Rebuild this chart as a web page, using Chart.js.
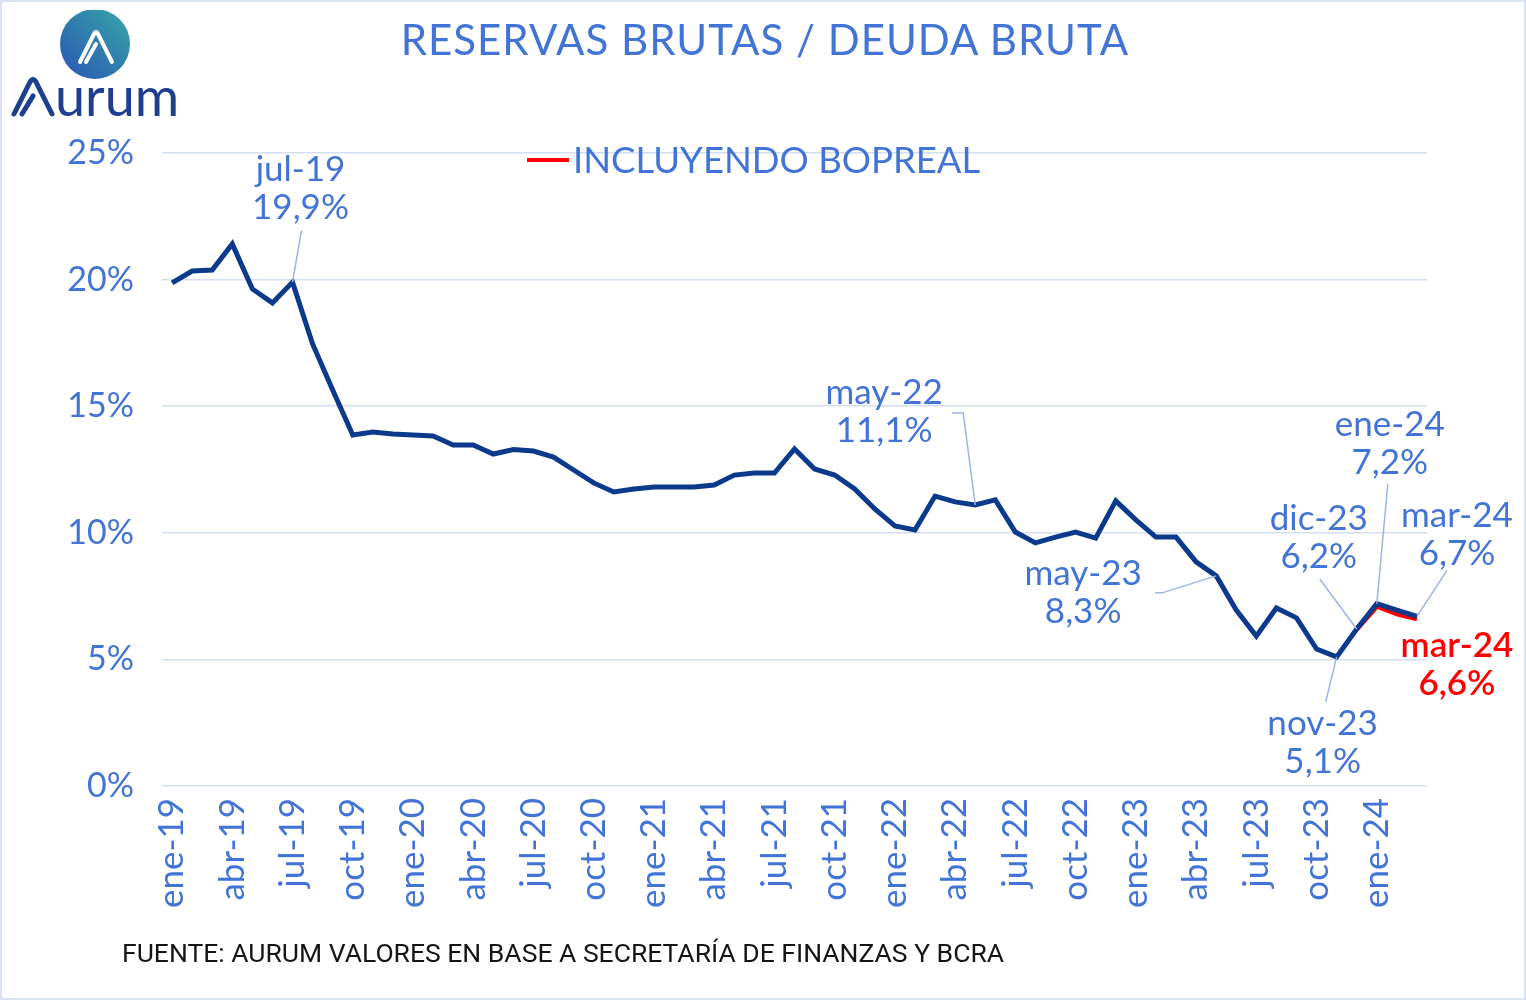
<!DOCTYPE html>
<html>
<head>
<meta charset="utf-8">
<script src="https://cdn.jsdelivr.net/npm/chart.js@4.4.1/dist/chart.umd.min.js"></script>
<style>
  html, body { margin:0; padding:0; background:#fff; }
  #wrap { position:relative; width:1526px; height:1000px; box-sizing:border-box; border:2px solid #d9e3f4; overflow:hidden; }
  #chart { position:absolute; left:0; top:0; }
  #title { position:absolute; left:0; width:1526px; top:12px; text-align:center; font:400 42px Lato, sans-serif; color:#4273d6; letter-spacing:1px; }
  #logo { position:absolute; left:8px; top:8px; }
  #foot { position:absolute; left:120px; top:935px; font:400 26.5px Roboto, sans-serif; color:#151515; }
</style>
</head>
<body>
<div id="wrap">
  <canvas id="chart" width="1526" height="1000"></canvas>
  <div id="title">RESERVAS BRUTAS / DEUDA BRUTA</div>
  <svg id="logo" width="180" height="115" viewBox="0 0 180 115">
    <defs>
      <linearGradient id="lg" x1="1" y1="0" x2="0" y2="1">
        <stop offset="0" stop-color="#36a7a6"/>
        <stop offset="1" stop-color="#2a55b5"/>
      </linearGradient>
    </defs>
    <circle cx="85" cy="34" r="35" fill="url(#lg)"/>
    <path d="M70 52 L84 24 Q86 20 88 24 L102 52" fill="none" stroke="#fff" stroke-width="4" stroke-linecap="round" stroke-linejoin="round"/>
    <path d="M76 52 L86 34" fill="none" stroke="#fff" stroke-width="4" stroke-linecap="round"/>
    <path d="M4 104 L20 72 Q23 67 26 72 L42 104" fill="none" stroke="#1e3f8f" stroke-width="5" stroke-linecap="round" stroke-linejoin="round"/>
    <path d="M12 104 L23 86" fill="none" stroke="#1e3f8f" stroke-width="5" stroke-linecap="round"/>
    <text x="45" y="106" font-family="Lato, sans-serif" font-size="54" fill="#1e3f8f">urum</text>
  </svg>
  <div id="foot">FUENTE: AURUM VALORES EN BASE A SECRETARÍA DE FINANZAS Y BCRA</div>
</div>
<script>
const labels = [
  'ene-19','feb-19','mar-19','abr-19','may-19','jun-19','jul-19','ago-19','sep-19','oct-19','nov-19','dic-19',
  'ene-20','feb-20','mar-20','abr-20','may-20','jun-20','jul-20','ago-20','sep-20','oct-20','nov-20','dic-20',
  'ene-21','feb-21','mar-21','abr-21','may-21','jun-21','jul-21','ago-21','sep-21','oct-21','nov-21','dic-21',
  'ene-22','feb-22','mar-22','abr-22','may-22','jun-22','jul-22','ago-22','sep-22','oct-22','nov-22','dic-22',
  'ene-23','feb-23','mar-23','abr-23','may-23','jun-23','jul-23','ago-23','sep-23','oct-23','nov-23','dic-23',
  'ene-24','feb-24','mar-24'
];
const ratio = [
  19.87, 20.34, 20.38, 21.41, 19.63, 19.08, 19.9, 17.46, 15.64, 13.86, 13.98, 13.9,
  13.86, 13.82, 13.47, 13.47, 13.11, 13.29, 13.23, 12.99, 12.48, 11.97, 11.61, 11.73,
  11.81, 11.81, 11.81, 11.89, 12.28, 12.36, 12.36, 13.31, 12.52, 12.28, 11.73, 10.94,
  10.27, 10.11, 11.45, 11.22, 11.1, 11.3, 10.03, 9.6, 9.83, 10.03, 9.79, 11.26,
  10.51, 9.83, 9.83, 8.85, 8.3, 6.95, 5.92, 7.03, 6.64, 5.41, 5.1, 6.2,
  7.2, 6.95, 6.7
];
const bopreal = labels.map(() => null);
const boprealTail = [6.2, 7.1, 6.8, 6.6]; // dic-23 .. mar-24
boprealTail.forEach((v, k) => { bopreal[labels.length - boprealTail.length + k] = v; });

const yTicks = [0, 5, 10, 15, 20, 25];
const legendText = 'INCLUYENDO BOPREAL';

const BLUE_TXT = '#4273d6', NAVY = '#0b3a8c', RED = '#ff0000', LEADER = '#9db4e4';
const FONT = 'Lato, sans-serif';

// labelled points: dataset, month index, text offset from point, leader path offsets
const notes = [
  { ds:0, i:6,  dx:8,   dy:-93, leader:[[9,-52]] },
  { ds:0, i:40, dx:-91, dy:-93, leader:[[-23,-92],[-12,-92]] },
  { ds:0, i:52, dx:-133,dy:17,  leader:[[-61,17],[-54,17]] },
  { ds:0, i:59, dx:-38, dy:-91, leader:[[-37,-50]] },
  { ds:0, i:58, dx:-14, dy:86,  leader:[[-11,45]] },
  { ds:0, i:60, dx:13,  dy:-160,leader:[[11,-120]] },
  { ds:0, i:62, dx:40,  dy:-82, leader:[[30,-46]] },
  { ds:1, i:62, dx:40,  dy:46,  leader:null, color:RED, bold:true }
];

const fmt = v => v.toFixed(1).replace('.', ',') + '%';

const notesPlugin = {
  id: 'notes',
  afterDatasetsDraw(chart) {
    const ctx = chart.ctx;
    notes.forEach(n => {
      const el = chart.getDatasetMeta(n.ds).data[n.i];
      const v = chart.data.datasets[n.ds].data[n.i];
      const x = el.x, y = el.y;
      ctx.save();
      if (n.leader) {
        ctx.strokeStyle = LEADER; ctx.lineWidth = 1.5;
        ctx.beginPath();
        ctx.moveTo(x + n.leader[0][0], y + n.leader[0][1]);
        n.leader.slice(1).forEach(p => ctx.lineTo(x + p[0], y + p[1]));
        ctx.lineTo(x, y);
        ctx.stroke();
      }
      ctx.fillStyle = n.color || BLUE_TXT;
      ctx.font = (n.bold ? '600 ' : '400 ') + '35px ' + FONT;
      ctx.textAlign = 'center'; ctx.textBaseline = 'middle';
      ctx.fillText(labels[n.i], x + n.dx, y + n.dy - 19);
      ctx.fillText(fmt(v), x + n.dx, y + n.dy + 19);
      ctx.restore();
    });
  }
};

const legendPlugin = {
  id: 'miniLegend',
  afterDraw(chart) {
    const ctx = chart.ctx, a = chart.chartArea;
    const x = a.left + 365, y = a.top + 7;
    ctx.save();
    ctx.strokeStyle = RED; ctx.lineWidth = 4;
    ctx.beginPath(); ctx.moveTo(x, y); ctx.lineTo(x + 42, y); ctx.stroke();
    ctx.fillStyle = BLUE_TXT; ctx.font = '400 36.5px ' + FONT;
    ctx.textAlign = 'left'; ctx.textBaseline = 'middle';
    ctx.fillText(legendText, x + 46, y + 1);
    ctx.restore();
  }
};

new Chart(document.getElementById('chart'), {
  type: 'line',
  data: {
    labels,
    datasets: [
      { label:'Reservas / Deuda', data:ratio, borderColor:NAVY, borderWidth:5, pointRadius:0, tension:0, fill:false },
      { label:legendText, data:bopreal, borderColor:RED, borderWidth:5, pointRadius:0, tension:0, fill:false, spanGaps:false }
    ]
  },
  options: {
    responsive:false, animation:false,
    layout:{ padding:{ top:151, right:101, left:0, bottom:0 } },
    plugins:{ legend:{display:false}, tooltip:{enabled:false}, title:{display:false} },
    scales:{
      x:{
        offset:true,
        grid:{ display:false, drawTicks:false },
        border:{ display:false },
        afterFit: s => { s.height = 216; },
        ticks:{
          autoSkip:false, minRotation:90, maxRotation:90, padding:12,
          color:BLUE_TXT, font:{ family:FONT, size:35 },
          callback:(v, i) => i % 3 === 0 ? labels[i] : ''
        }
      },
      y:{
        min:0, max:25,
        afterFit: s => { s.width = 160; },
        afterBuildTicks: s => { s.ticks = yTicks.map(v => ({ value:v })); },
        grid:{ color:'#d3def3', lineWidth:1.5, drawTicks:false },
        border:{ display:false },
        ticks:{ padding:28, color:BLUE_TXT, font:{ family:FONT, size:34 }, callback:v => v + '%' }
      }
    }
  },
  plugins:[notesPlugin, legendPlugin]
});
</script>
</body>
</html>
